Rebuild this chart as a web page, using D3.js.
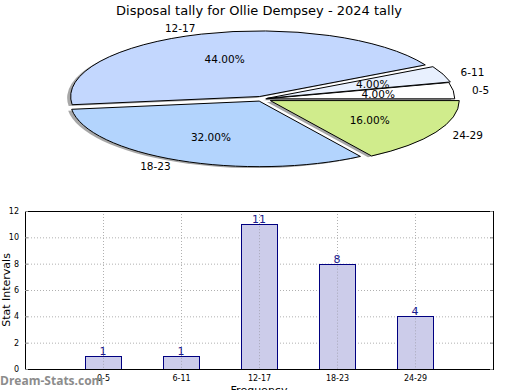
<!DOCTYPE html>
<html>
<head>
<meta charset="utf-8">
<script src="https://cdn.jsdelivr.net/npm/d3@7"></script>
<style>
  body { margin: 0; background: #fff; }
  svg { display: block; font-family: "DejaVu Sans", sans-serif; }
</style>
</head>
<body>
<svg id="chart"></svg>
<script>
const categories = ["0-5", "6-11", "12-17", "18-23", "24-29"];
const counts = [1, 1, 11, 8, 4];
const sliceColors = ["#ffffff", "#e8f0fe", "#c3d7fe", "#b3d4fd", "#d0ec8c"];
const explode = [0.02, 0.03, 0.04, 0.035, 0.05];
const yTicks = [0, 2, 4, 6, 8, 10, 12];
const title = "Disposal tally for Ollie Dempsey - 2024 tally";

const size = { width: 520, height: 390 };
const svg = d3.select("#chart").attr("width", size.width).attr("height", size.height);

// title
svg.append("text")
  .attr("x", 259).attr("y", 15)
  .attr("text-anchor", "middle")
  .style("font-size", "13px")
  .text(title);

// ---- pie (matplotlib style, squashed into an ellipse) ----
const pieC = { x: 262, y: 99, r: 189, ky: 0.347 };
const total = d3.sum(counts);

// matplotlib starts at 3 o'clock and goes counter-clockwise;
// d3 angles go clockwise from 12 o'clock, so convert.
const toD3 = (deg) => (90 - deg) * Math.PI / 180;
let acc = 0;
const slices = counts.map((v, i) => {
  const a0 = acc / total * 360;
  acc += v;
  const a1 = acc / total * 360;
  const mid = (a0 + a1) / 2 * Math.PI / 180;
  return {
    i, v,
    startAngle: toD3(a1), endAngle: toD3(a0),
    mid,
    dx: Math.cos(mid) * explode[i] * pieC.r,
    dy: -Math.sin(mid) * explode[i] * pieC.r
  };
});

const arc = d3.arc().innerRadius(0).outerRadius(pieC.r);
const pieG = svg.append("g")
  .attr("transform", `translate(${pieC.x},${pieC.y}) scale(1,${pieC.ky})`);

// shadows
pieG.selectAll("path.shadow")
  .data(slices)
  .enter()
  .append("path")
  .attr("class", "shadow")
  .attr("transform", (d) => `translate(${d.dx - 3.5},${d.dy + 4})`)
  .attr("d", arc)
  .attr("fill", "#505050")
  .attr("opacity", 0.5);

pieG.selectAll("path.wedge")
  .data(slices)
  .enter()
  .append("path")
  .attr("class", "wedge")
  .attr("transform", (d) => `translate(${d.dx},${d.dy})`)
  .attr("d", arc)
  .attr("fill", (d) => sliceColors[d.i])
  .attr("stroke", "black")
  .attr("stroke-width", 1)
  .attr("vector-effect", "non-scaling-stroke");

// percent labels and category labels
slices.forEach((d) => {
  const px = pieC.x + d.dx + Math.cos(d.mid) * pieC.r * 0.6;
  const py = pieC.y + (d.dy - Math.sin(d.mid) * pieC.r * 0.6) * pieC.ky;
  svg.append("text")
    .attr("x", px).attr("y", py)
    .attr("text-anchor", "middle")
    .attr("dominant-baseline", "central")
    .style("font-size", "10.5px")
    .text(d3.format(".2f")(d.v / total * 100) + "%");

  const lx = pieC.x + d.dx + Math.cos(d.mid) * pieC.r * 1.1;
  const ly = pieC.y + (d.dy - Math.sin(d.mid) * pieC.r * 1.1) * pieC.ky;
  svg.append("text")
    .attr("x", lx).attr("y", ly)
    .attr("text-anchor", Math.cos(d.mid) > 0 ? "start" : "end")
    .attr("dominant-baseline", "central")
    .style("font-size", "10.5px")
    .text(categories[d.i]);
});

// ---- bar chart ----
const box = { left: 25, right: 493, top: 211, bottom: 369 };
const x = d3.scaleLinear().domain([0, categories.length + 1]).range([box.left, box.right]);
const y = d3.scaleLinear().domain([0, 12]).range([box.bottom, box.top]);
const barW = 0.46;

const grid = svg.append("g")
  .attr("stroke", "#b0b0b0")
  .attr("stroke-dasharray", "1,2")
  .attr("stroke-width", 1);
yTicks.slice(1, -1).forEach((t) => {
  grid.append("line")
    .attr("x1", box.left).attr("x2", box.right)
    .attr("y1", y(t) + 0.5).attr("y2", y(t) + 0.5);
});
categories.forEach((c, i) => {
  grid.append("line")
    .attr("x1", Math.round(x(i + 1)) + 0.5).attr("x2", Math.round(x(i + 1)) + 0.5)
    .attr("y1", box.top).attr("y2", box.bottom);
});

svg.append("g")
  .selectAll("rect")
  .data(counts)
  .enter()
  .append("rect")
  .attr("x", (d, i) => Math.round(x(i + 1 - barW / 2)) + 0.5)
  .attr("width", (d, i) => Math.round(x(i + 1 + barW / 2)) - Math.round(x(i + 1 - barW / 2)))
  .attr("y", (d) => Math.round(y(d)) + 0.5)
  .attr("height", (d) => Math.round(y(0)) - Math.round(y(d)))
  .attr("fill", "#ccccea")
  .attr("stroke", "#000080")
  .attr("stroke-width", 1);

// grid over the bars (matplotlib draws it above patches)
categories.forEach((c, i) => {
  svg.append("line")
    .attr("x1", Math.round(x(i + 1)) + 0.5).attr("x2", Math.round(x(i + 1)) + 0.5)
    .attr("y1", y(counts[i]) + 2).attr("y2", box.bottom)
    .attr("stroke", "#a8a8b8")
    .attr("stroke-dasharray", "1,2");
});

svg.append("g")
  .selectAll("text")
  .data(counts)
  .enter()
  .append("text")
  .attr("x", (d, i) => x(i + 1))
  .attr("y", (d) => y(d) - 1)
  .attr("text-anchor", "middle")
  .attr("fill", "#1a1a8c")
  .style("font-size", "11px")
  .text((d) => d);

// frame
svg.append("rect")
  .attr("x", box.left + 0.5).attr("y", box.top + 0.5)
  .attr("width", box.right - box.left).attr("height", box.bottom - box.top)
  .attr("fill", "none")
  .attr("stroke", "black")
  .attr("stroke-width", 1);

// axes
svg.append("g")
  .attr("transform", `translate(${box.left},0)`)
  .call(d3.axisLeft(y).tickValues(yTicks).tickSize(-3).tickPadding(6))
  .call((g) => g.select(".domain").remove())
  .call((g) => g.selectAll("text").style("font-size", "8px").style("font-family", "DejaVu Sans"))
  .call((g) => g.selectAll("line").attr("stroke", "#888"));
svg.append("g")
  .attr("transform", `translate(${box.right},0)`)
  .call(d3.axisRight(y).tickValues(yTicks).tickSize(-3).tickFormat(""))
  .call((g) => g.select(".domain").remove())
  .call((g) => g.selectAll("line").attr("stroke", "#888"));
svg.append("g")
  .attr("transform", `translate(0,${box.bottom})`)
  .call(d3.axisBottom(x).tickValues(d3.range(1, categories.length + 1))
    .tickFormat((d) => categories[d - 1]).tickSize(0).tickPadding(6))
  .call((g) => g.select(".domain").remove())
  .call((g) => g.selectAll("text").style("font-size", "8px").style("font-family", "DejaVu Sans"));

svg.append("text")
  .attr("transform", `translate(6,${(box.top + box.bottom) / 2}) rotate(-90)`)
  .attr("text-anchor", "middle")
  .attr("dominant-baseline", "central")
  .style("font-size", "11px")
  .text("Stat Intervals");

svg.append("text")
  .attr("x", 259).attr("y", 394)
  .attr("text-anchor", "middle")
  .style("font-size", "11px")
  .text("Frequency");

svg.append("text")
  .attr("x", 0).attr("y", 385)
  .attr("fill", "#8c8c8c")
  .style("font-size", "12px")
  .style("font-weight", "bold")
  .style("font-family", "'Open Sans', sans-serif")
  .text("Dream-Stats.com");
</script>
</body>
</html>
